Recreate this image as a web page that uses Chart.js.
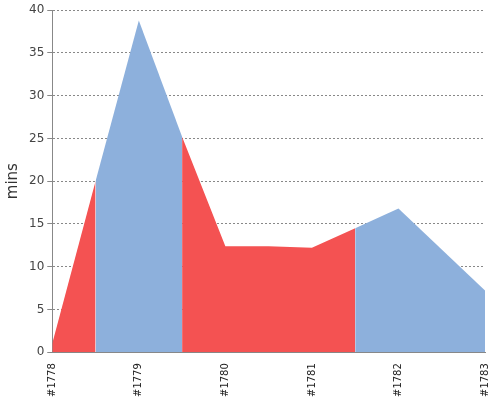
<!DOCTYPE html>
<html><head><script src="https://cdn.jsdelivr.net/npm/chart.js@4"></script>
<style>body{margin:0;background:#fff}#w{width:500px;height:400px}</style></head>
<body><div id="w"><canvas id="c"></canvas></div>
<script>
const categories = ['#1778','#1779','#1780','#1781','#1782','#1783'];
const positions = [0,0.5,1,1.5,2,2.5,3,3.5,4,5];
const values = [1,20,38.8,25.2,12.4,12.4,12.2,14.5,16.8,7.2];
const segColors = ['red','blue','blue','red','red','red','red','blue','blue'];
const RED='#f45252', BLUE='#8db0dc';
const datasets=[];
let cur=null;
for(let i=0;i<segColors.length;i++){
  if(!cur||cur.c!==segColors[i]){cur={c:segColors[i],pts:[{x:positions[i],y:values[i]}]};datasets.push(cur);}
  cur.pts.push({x:positions[i+1],y:values[i+1]});
}
new Chart(document.getElementById('c'),{type:'line',
data:{datasets:datasets.map(d=>({data:d.pts,fill:'origin',backgroundColor:d.c==='red'?RED:BLUE,borderWidth:0,pointRadius:0,tension:0}))},
options:{responsive:true,maintainAspectRatio:false,animation:false,
layout:{padding:{right:8,top:4}},
plugins:{legend:{display:false},tooltip:{enabled:false}},
scales:{x:{type:'linear',min:0,max:5,grid:{display:false,drawTicks:true},border:{color:'#888'},
ticks:{stepSize:1,autoSkip:false,maxRotation:90,minRotation:90,color:'#222',font:{size:10,family:'DejaVu Sans'},callback:v=>categories[v]}},
y:{min:0,max:40,ticks:{stepSize:5,color:'#444',font:{size:12,family:'DejaVu Sans'}},border:{color:'#888'},
grid:{color:'#888',tickLength:5,drawTicks:true},border:{dash:[2,2],color:'#888'},
title:{display:true,text:'mins',color:'#333',font:{size:15,family:'DejaVu Sans'}}}}}});
</script></body></html>
